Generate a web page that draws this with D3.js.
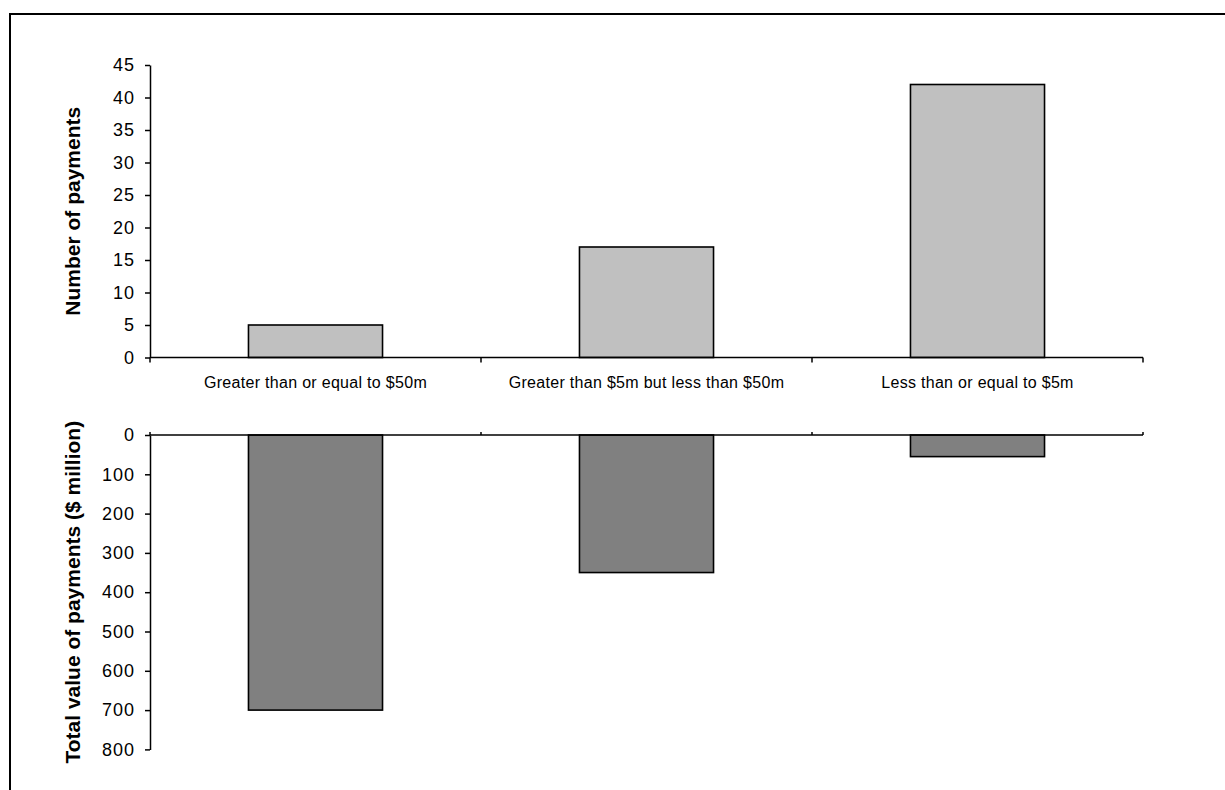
<!DOCTYPE html>
<html>
<head>
<meta charset="utf-8">
<script src="https://cdn.jsdelivr.net/npm/d3@7"></script>
<style>
  html, body { margin: 0; padding: 0; background: #fff; }
  svg { display: block; }
  text { font-family: "Liberation Sans", Arial, sans-serif; fill: #000; }
</style>
</head>
<body>
<svg id="chart" width="1225" height="790"></svg>
<script>
// ---- data ----
const categories = ["Greater than or equal to $50m", "Greater than $5m but less than $50m", "Less than or equal to $5m"];
const countValues = [5, 17, 42];
const valueMillions = [700, 350, 55];
const countTicks = [0, 5, 10, 15, 20, 25, 30, 35, 40, 45];
const valueTicks = [0, 100, 200, 300, 400, 500, 600, 700, 800];
const countTitle = "Number of payments";
const valueTitle = "Total value of payments ($ million)";

const svg = d3.select("#chart");

// frame
svg.append("rect").attr("x", 10).attr("y", 14).attr("width", 1240).attr("height", 800)
  .attr("fill", "none").attr("stroke", "#000").attr("stroke-width", 2);

const x0 = 150, x1 = 1143;
const x = d3.scaleBand().domain(categories).range([x0, x1]).paddingInner(0.595).paddingOuter(0.2975);
const xc = d3.scaleBand().domain(categories).range([x0, x1]).padding(0);

const yTop = d3.scaleLinear().domain([0, 45]).range([357.5, 65]);
const yBot = d3.scaleLinear().domain([0, 800]).range([435, 749.4]);

// ---- top bars ----
svg.append("g").selectAll("rect").data(countValues).join("rect")
  .attr("x", (d, i) => x(categories[i]))
  .attr("width", x.bandwidth())
  .attr("y", d => yTop(d))
  .attr("height", d => yTop(0) - yTop(d))
  .attr("fill", "#c0c0c0").attr("stroke", "#000").attr("stroke-width", 1.6);

// ---- bottom bars ----
svg.append("g").selectAll("rect").data(valueMillions).join("rect")
  .attr("x", (d, i) => x(categories[i]))
  .attr("width", x.bandwidth())
  .attr("y", yBot(0))
  .attr("height", d => yBot(d) - yBot(0))
  .attr("fill", "#808080").attr("stroke", "#000").attr("stroke-width", 1.6);

function styleAxis(g) {
  g.selectAll(".domain").attr("stroke", "#000").attr("stroke-width", 1.5);
  g.selectAll(".tick line").attr("stroke", "#000").attr("stroke-width", 1.5);
  g.selectAll("text").attr("font-family", "Liberation Sans, Arial, sans-serif")
    .attr("font-size", 18).attr("letter-spacing", 1);
}

// ---- y axes ----
const gyTop = svg.append("g").attr("transform", `translate(${x0},0)`)
  .call(d3.axisLeft(yTop).tickValues(countTicks).tickSize(5).tickPadding(10).tickSizeOuter(0));
styleAxis(gyTop);

const gyBot = svg.append("g").attr("transform", `translate(${x0},0)`)
  .call(d3.axisLeft(yBot).tickValues(valueTicks).tickSize(5).tickPadding(10).tickSizeOuter(0));
styleAxis(gyBot);

// ---- category axes (ticks at category boundaries) ----
const bounds = categories.map(c => xc(c)).concat([x1]);
function catAxis(yPos, dir) {
  const g = svg.append("g");
  g.append("line").attr("x1", x0).attr("x2", x1).attr("y1", yPos).attr("y2", yPos)
    .attr("stroke", "#000").attr("stroke-width", 1.5);
  g.selectAll("line.t").data(bounds).join("line").attr("class", "t")
    .attr("x1", d => d).attr("x2", d => d)
    .attr("y1", yPos).attr("y2", yPos + dir)
    .attr("stroke", "#000").attr("stroke-width", 1.5);
  return g;
}
catAxis(yTop(0), 5);
catAxis(yBot(0), -3);

svg.append("g").selectAll("text").data(categories).join("text")
  .attr("x", d => xc(d) + xc.bandwidth() / 2)
  .attr("y", 388)
  .attr("text-anchor", "middle")
  .attr("font-size", 16)
  .attr("letter-spacing", 0.3)
  .text(d => d);

// ---- axis titles ----
svg.append("text")
  .attr("transform", `translate(80,${(yTop(0) + yTop(45)) / 2}) rotate(-90)`)
  .attr("text-anchor", "middle").attr("font-weight", "bold").attr("font-size", 21)
  .text(countTitle);

svg.append("text")
  .attr("transform", `translate(80,${(yBot(0) + yBot(800)) / 2}) rotate(-90)`)
  .attr("text-anchor", "middle").attr("font-weight", "bold").attr("font-size", 21)
  .text(valueTitle);
</script>
</body>
</html>
